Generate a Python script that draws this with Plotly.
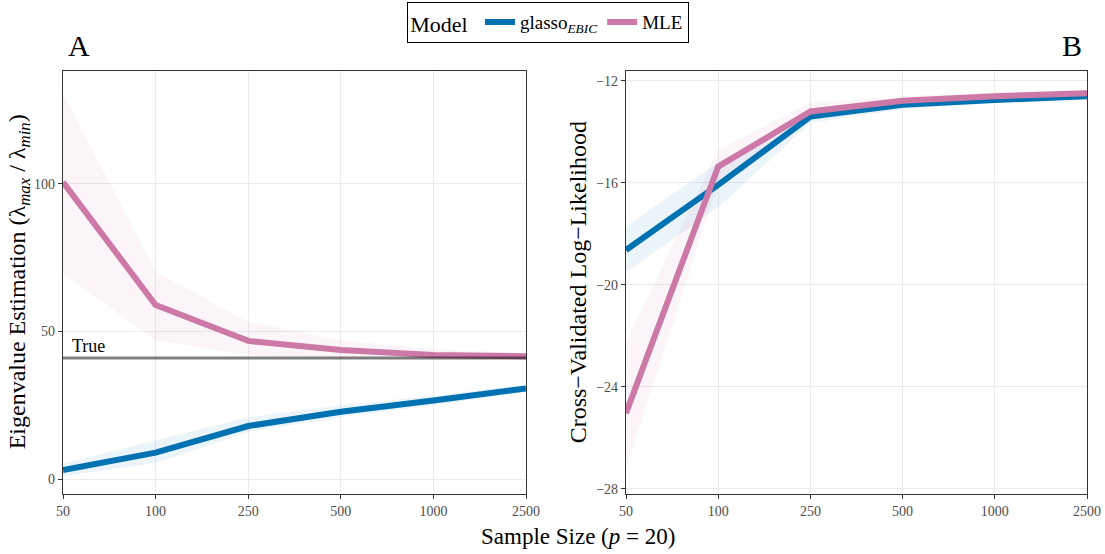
import plotly.graph_objects as go

sample_sizes = ["50", "100", "250", "500", "1000", "2500"]

# Panel A: eigenvalue ratio estimation
a_glasso = [3.1, 9.0, 18.0, 22.8, 26.6, 30.7]
a_glasso_lo = [1.0, 5.5, 16.0, 21.0, 25.0, 29.5]
a_glasso_hi = [5.2, 13.0, 21.0, 25.0, 28.2, 32.0]
a_mle = [100.5, 58.9, 46.8, 43.7, 42.0, 41.6]
a_mle_lo = [69.6, 47.0, 42.0, 40.8, 40.4, 40.4]
a_mle_hi = [130.6, 70.1, 53.2, 47.0, 44.0, 42.6]
true_value = 41

# Panel B: cross-validated log-likelihood
b_glasso = [-18.63, -16.08, -13.4, -12.94, -12.75, -12.6]
b_glasso_lo = [-19.5, -16.95, -13.65, -13.1, -12.85, -12.7]
b_glasso_hi = [-17.7, -15.2, -13.15, -12.8, -12.65, -12.5]
b_mle = [-25.03, -15.36, -13.2, -12.78, -12.6, -12.48]
b_mle_lo = [-27.2, -16.0, -13.5, -12.95, -12.75, -12.6]
b_mle_hi = [-22.3, -14.7, -12.85, -12.6, -12.45, -12.35]

BLUE = "#0072B2"
PINK = "#CC79A7"
BLUE_F = "rgba(0,114,178,0.08)"
PINK_F = "rgba(204,121,167,0.08)"
FONT = "Liberation Serif"

fig = go.Figure()

def ribbon(x, lo, hi, color, xa, ya):
    fig.add_trace(go.Scatter(x=x, y=hi, mode="lines", line=dict(width=0), showlegend=False,
                             hoverinfo="skip", xaxis=xa, yaxis=ya))
    fig.add_trace(go.Scatter(x=x, y=lo, mode="lines", line=dict(width=0), fill="tonexty",
                             fillcolor=color, showlegend=False, hoverinfo="skip", xaxis=xa, yaxis=ya))

ribbon(sample_sizes, a_glasso_lo, a_glasso_hi, BLUE_F, "x", "y")
ribbon(sample_sizes, a_mle_lo, a_mle_hi, PINK_F, "x", "y")
ribbon(sample_sizes, b_glasso_lo, b_glasso_hi, BLUE_F, "x2", "y2")
ribbon(sample_sizes, b_mle_lo, b_mle_hi, PINK_F, "x2", "y2")

fig.add_trace(go.Scatter(x=sample_sizes, y=a_glasso, mode="lines", line=dict(color=BLUE, width=6),
                         name="glasso<sub><i>EBIC</i></sub>", legendgroup="g", xaxis="x", yaxis="y"))
fig.add_trace(go.Scatter(x=sample_sizes, y=a_mle, mode="lines", line=dict(color=PINK, width=6),
                         name="MLE", legendgroup="m", xaxis="x", yaxis="y"))
fig.add_trace(go.Scatter(x=sample_sizes, y=b_glasso, mode="lines", line=dict(color=BLUE, width=6),
                         name="glasso<sub><i>EBIC</i></sub>", legendgroup="g", showlegend=False,
                         xaxis="x2", yaxis="y2"))
fig.add_trace(go.Scatter(x=sample_sizes, y=b_mle, mode="lines", line=dict(color=PINK, width=6),
                         name="MLE", legendgroup="m", showlegend=False, xaxis="x2", yaxis="y2"))

# True value line
fig.add_trace(go.Scatter(x=sample_sizes, y=[true_value] * len(sample_sizes), mode="lines",
                         line=dict(color="rgba(0,0,0,0.5)", width=3), showlegend=False,
                         hoverinfo="skip", xaxis="x", yaxis="y"))

y0 = (554 - 494) / 554
y1 = (554 - 70.7) / 554

axis_common = dict(showline=True, mirror=True, linecolor="#333333", linewidth=1.2,
                   showgrid=True, gridcolor="#EBEBEB", gridwidth=1.3,
                   ticks="outside", ticklen=4, tickcolor="#333333", automargin=False,
                   tickfont=dict(family=FONT, size=14, color="#4D4D4D"), zeroline=False)

fig.update_layout(
    width=1105, height=554,
    margin=dict(l=0, r=0, t=0, b=0, autoexpand=False),
    paper_bgcolor="white", plot_bgcolor="white",
    font=dict(family=FONT, color="black"),
    xaxis=dict(domain=[63 / 1105, 526 / 1105], type="category", range=[0, 5], anchor="y", **axis_common),
    yaxis=dict(domain=[y0, y1], range=[-5.0, 138.2], tickvals=[0, 50, 100], anchor="x", **axis_common),
    xaxis2=dict(domain=[626 / 1105, 1087 / 1105], type="category", range=[0, 5], anchor="y2", **axis_common),
    yaxis2=dict(domain=[y0, y1], range=[-28.2, -11.6], tickvals=[-28, -24, -20, -16, -12], anchor="x2",
                **axis_common),
    legend=dict(orientation="h", x=548 / 1105, xanchor="center", y=1 - 2 / 554, yanchor="top",
                title=dict(text="Model ", font=dict(family=FONT, size=22)),
                font=dict(family=FONT, size=19), bordercolor="black", borderwidth=1.2,
                bgcolor="white", itemwidth=30),
    showlegend=True,
)

ann = [
    dict(text="A", x=66 / 1105, y=1 - 45 / 554, xref="paper", yref="paper", xanchor="left",
         yanchor="middle", showarrow=False, font=dict(family=FONT, size=30)),
    dict(text="B", x=1084 / 1105, y=1 - 45 / 554, xref="paper", yref="paper", xanchor="right",
         yanchor="middle", showarrow=False, font=dict(family=FONT, size=30)),
    dict(text="True", x=0, y=true_value, xref="x", yref="y", xanchor="left", yanchor="bottom",
         xshift=7, yshift=0, showarrow=False, font=dict(family=FONT, size=18)),
    dict(text="Eigenvalue Estimation (λ<sub><i>max</i></sub> / λ<sub><i>min</i></sub>)",
         x=19 / 1105, y=(y0 + y1) / 2, xref="paper", yref="paper", xanchor="center", yanchor="middle",
         textangle=-90, showarrow=False, font=dict(family=FONT, size=24)),
    dict(text="Cross−Validated Log−Likelihood",
         x=578 / 1105, y=(y0 + y1) / 2, xref="paper", yref="paper", xanchor="center", yanchor="middle",
         textangle=-90, showarrow=False, font=dict(family=FONT, size=24)),
    dict(text="Sample Size (<i>p</i> = 20)", x=578 / 1105, y=1 - 536 / 554, xref="paper", yref="paper",
         xanchor="center", yanchor="middle", showarrow=False, font=dict(family=FONT, size=23)),
]
fig.update_layout(annotations=ann)

fig.write_html("out.html", config={"displayModeBar": False},
               post_script="document.body.style.margin='0px';")
